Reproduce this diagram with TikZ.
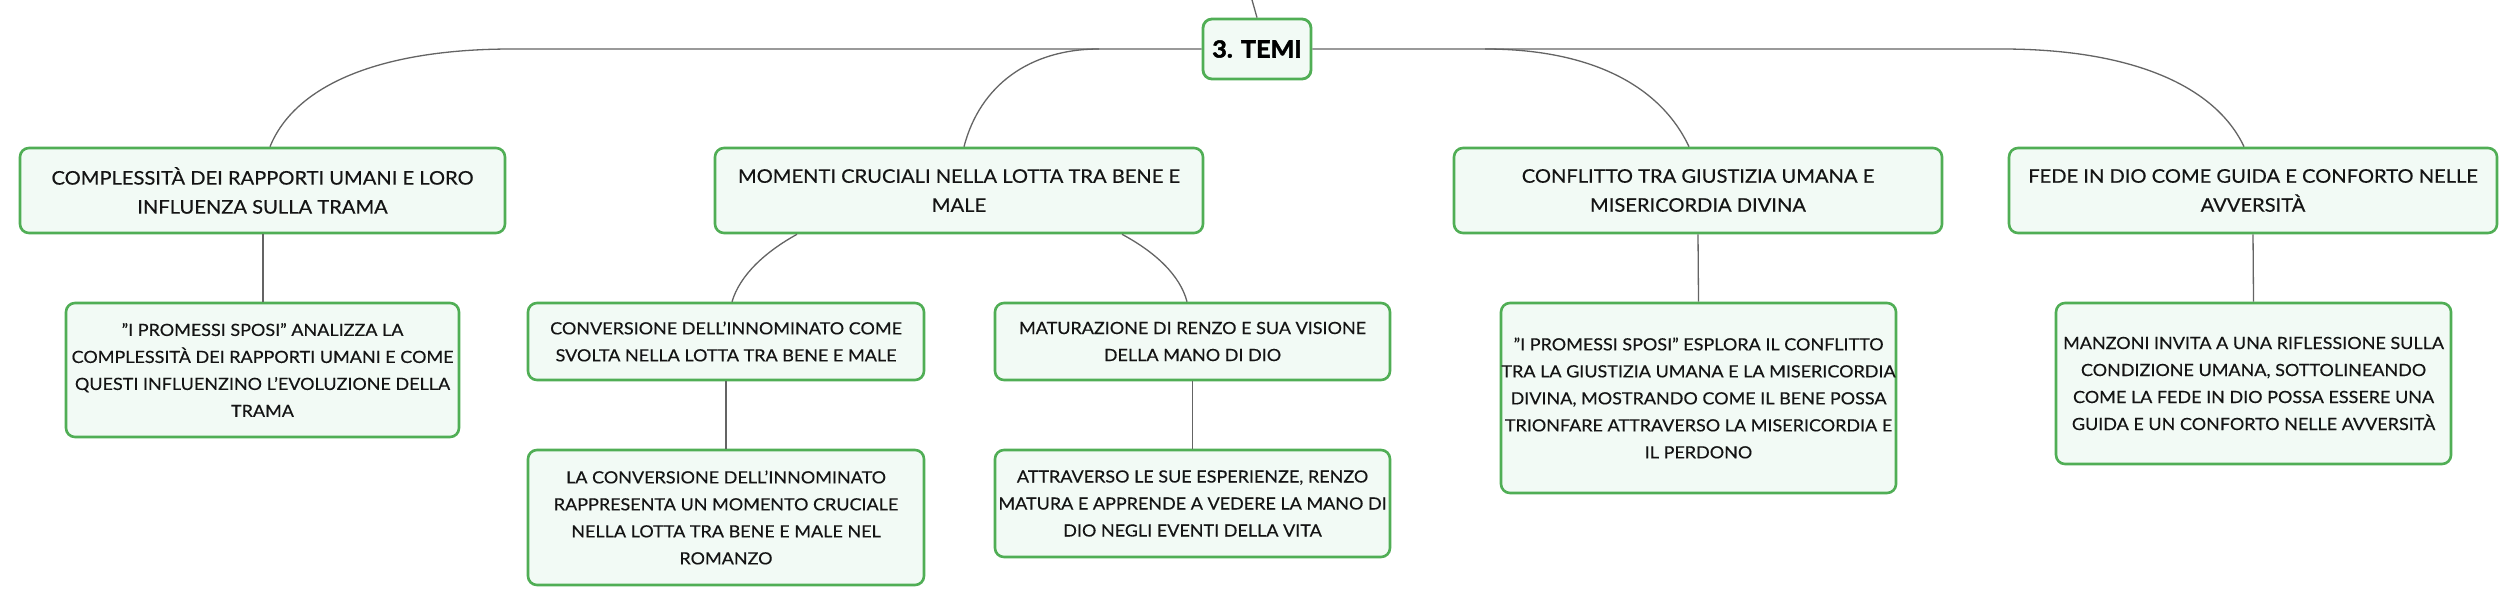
\documentclass[tikz,border=0pt]{standalone}
\usepackage{fontspec}
\setmainfont{Lato}[FakeStretch=1.07, FakeBold=0.35, BoldFeatures={FakeBold=2.2}]
\usetikzlibrary{calc}
\definecolor{boxgreen}{RGB}{80,174,85}
\definecolor{boxfill}{RGB}{242,250,245}
\definecolor{linegray}{RGB}{100,100,100}
\definecolor{txt}{RGB}{20,20,20}
\tikzset{
  topic/.style={draw=boxgreen, line width=2.6pt, fill=boxfill, rounded corners=9pt,
    align=center, text=txt, inner sep=0pt, font=\fontsize{18.8}{29}\selectfont},
  sub/.style={draw=boxgreen, line width=2.6pt, fill=boxfill, rounded corners=9pt,
    align=center, text=txt, inner sep=0pt, font=\fontsize{16.8}{27}\selectfont},
  rootbox/.style={draw=boxgreen, line width=2.8pt, fill=boxfill, rounded corners=9pt,
    align=center, text=black, inner sep=0pt, font=\fontsize{23.5}{28}\selectfont\bfseries},
  conn/.style={draw=linegray, line width=1.3pt}
}
\begin{document}
\begin{tikzpicture}[x=1pt,y=-1pt]
\useasboundingbox[fill=white] (0,0) rectangle (2515,605);

% root
\node[rootbox, minimum width=108pt, minimum height=60pt] (root) at (1257,49) {3. TEMI};
\coordinate (above) at (1252,0);

% level 1
\node[topic, minimum width=485pt, minimum height=85pt] (b1) at (262.5,190.5)
  {COMPLESSITÀ DEI RAPPORTI UMANI E LORO\\INFLUENZA SULLA TRAMA};
\node[topic, minimum width=488pt, minimum height=85pt] (b2) at (959,190.5)
  {MOMENTI CRUCIALI NELLA LOTTA TRA BENE E\\MALE};
\node[topic, minimum width=488pt, minimum height=85pt] (b3) at (1698,190.5)
  {CONFLITTO TRA GIUSTIZIA UMANA E\\MISERICORDIA DIVINA};
\node[topic, minimum width=488pt, minimum height=85pt] (b4) at (2253,190.5)
  {FEDE IN DIO COME GUIDA E CONFORTO NELLE\\AVVERSITÀ};

% level 2
\node[sub, minimum width=393pt, minimum height=134pt] (c1) at (262.5,370)
  {"I PROMESSI SPOSI" ANALIZZA LA\\COMPLESSITÀ DEI RAPPORTI UMANI E COME\\QUESTI INFLUENZINO L'EVOLUZIONE DELLA\\TRAMA};
\node[sub, minimum width=396pt, minimum height=77pt] (c2a) at (726,341.5)
  {CONVERSIONE DELL'INNOMINATO COME\\SVOLTA NELLA LOTTA TRA BENE E MALE};
\node[sub, minimum width=395pt, minimum height=77pt] (c2b) at (1192.5,341.5)
  {MATURAZIONE DI RENZO E SUA VISIONE\\DELLA MANO DI DIO};
\node[sub, minimum width=396pt, minimum height=135pt] (d2a) at (726,517.5)
  {LA CONVERSIONE DELL'INNOMINATO\\RAPPRESENTA UN MOMENTO CRUCIALE\\NELLA LOTTA TRA BENE E MALE NEL\\ROMANZO};
\node[sub, minimum width=395pt, minimum height=107pt] (d2b) at (1192.5,503.5)
  {ATTRAVERSO LE SUE ESPERIENZE, RENZO\\MATURA E APPRENDE A VEDERE LA MANO DI\\DIO NEGLI EVENTI DELLA VITA};
\node[sub, minimum width=395pt, minimum height=190pt] (c3) at (1698.5,398)
  {"I PROMESSI SPOSI" ESPLORA IL CONFLITTO\\TRA LA GIUSTIZIA UMANA E LA MISERICORDIA\\DIVINA, MOSTRANDO COME IL BENE POSSA\\TRIONFARE ATTRAVERSO LA MISERICORDIA E\\IL PERDONO};
\node[sub, minimum width=395pt, minimum height=161pt] (c4) at (2253.5,383.5)
  {MANZONI INVITA A UNA RIFLESSIONE SULLA\\CONDIZIONE UMANA, SOTTOLINEANDO\\COME LA FEDE IN DIO POSSA ESSERE UNA\\GUIDA E UN CONFORTO NELLE AVVERSITÀ};

% connectors
\draw[conn] (above) -- (root.north);
\draw[conn] (root.west) -- (512,49) .. controls (380,49) and (295,85) .. ($(b1.north)+(7.5,0)$);
\draw[conn] (1099,49) .. controls (1030,49) and (980,85) .. ($(b2.north)+(5,0)$);
\draw[conn] (root.east) -- (2002,49) .. controls (2130,49) and (2215,85) .. ($(b4.north)+(-9,0)$);
\draw[conn] (1485,49) .. controls (1590,49) and (1660,85) .. ($(b3.north)+(-9,0)$);
\draw[conn] ($(b2.south)+(-162,0)$) .. controls (765,252) and (740,275) .. ($(c2a.north)+(6,0)$);
\draw[conn] ($(b2.south)+(163,0)$) .. controls (1155,252) and (1180,275) .. ($(c2b.north)+(-5.5,0)$);
\draw[conn] ($(b1.south)+(0.5,0)$) -- ($(c1.north)+(0.5,0)$);
\draw[conn] (c2a.south) -- (d2a.north);
\draw[conn] (c2b.south) -- (d2b.north);
\draw[conn] (b3.south) -- (c3.north);
\draw[conn] (b4.south) -- (c4.north);
\end{tikzpicture}
\end{document}
